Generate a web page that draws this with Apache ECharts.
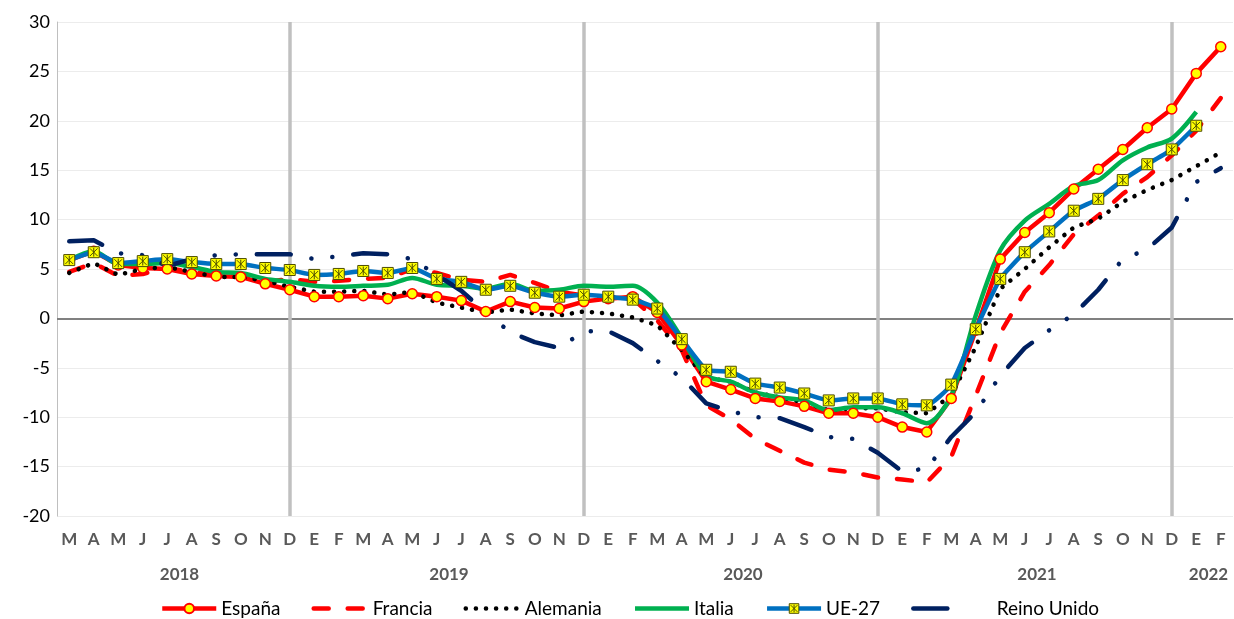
<!DOCTYPE html>
<html>
<head>
<meta charset="utf-8">
<script src="https://cdn.jsdelivr.net/npm/echarts@6/dist/echarts.min.js"></script>
<style>
  html, body { margin: 0; padding: 0; background: #fff; }
  #main { width: 1234px; height: 619px; }
</style>
</head>
<body>
<div id="main"></div>
<script>
var meses = ['M','A','M','J','J','A','S','O','N','D',
  'E','F','M','A','M','J','J','A','S','O','N','D',
  'E','F','M','A','M','J','J','A','S','O','N','D',
  'E','F','M','A','M','J','J','A','S','O','N','D',
  'E','F'];
var anios = ['2018', '2019', '2020', '2021', '2022'];
var aniosDesde = [0, 10, 22, 34, 46];
var aniosHasta = [9, 21, 33, 45, 47];
var diciembres = [9, 21, 33, 45];

var espana = [5.9, 6.8, 5.4, 5.1, 5.0, 4.5, 4.3, 4.2, 3.5, 2.9,
  2.2, 2.2, 2.3, 2.0, 2.5, 2.2, 1.8, 0.7, 1.7, 1.1, 1.0, 1.7,
  2.0, 2.2, 0.6, -2.7, -6.4, -7.2, -8.1, -8.4, -8.9, -9.6, -9.6, -10.0,
  -11.0, -11.5, -8.1, -1.2, 6.0, 8.7, 10.7, 13.1, 15.1, 17.1, 19.3, 21.2,
  24.8, 27.5];
var francia = [4.7, 5.6, 4.3, 4.5, 5.1, 4.7, 4.4, 4.3, 3.7, 4.0,
  3.7, 3.8, 4.0, 4.1, 5.0, 4.6, 3.9, 3.7, 4.4, 3.6, 2.7, 2.3,
  2.2, 2.0, -0.2, -3.2, -8.8, -10.2, -12.2, -13.4, -14.6, -15.3, -15.6, -16.1,
  -16.3, -16.6, -14.0, -7.8, -1.5, 2.7, 5.4, 8.5, 10.4, 12.6, 14.3, 16.5,
  19.0, 22.3];
var alemania = [4.6, 5.6, 4.4, 5.0, 5.2, 4.7, 4.2, 4.2, 3.8, 3.2,
  2.7, 2.7, 2.8, 2.4, 2.7, 1.6, 1.1, 0.6, 0.9, 0.5, 0.3, 0.7,
  0.5, 0.1, -0.7, -3.2, -6.0, -6.4, -7.5, -8.0, -8.5, -9.3, -9.1, -9.1,
  -9.5, -9.6, -7.8, -2.9, 3.0, 5.0, 7.2, 9.2, 10.1, 11.8, 13.0, 14.0,
  15.4, 16.8];
var italia = [5.9, 6.8, 5.5, 5.5, 5.6, 5.2, 4.7, 4.6, 4.0, 3.7,
  3.3, 3.2, 3.3, 3.4, 4.1, 3.4, 3.3, 3.0, 3.5, 2.8, 2.9, 3.3,
  3.2, 3.3, 1.6, -2.0, -5.8, -6.4, -7.5, -8.0, -8.3, -9.3, -9.0, -9.0,
  -9.6, -10.6, -7.8, 0.3, 6.9, 9.9, 11.6, 13.4, 14.0, 16.0, 17.3, 18.2,
  20.9, null];
var ue27 = [5.9, 6.7, 5.6, 5.8, 6.0, 5.7, 5.5, 5.5, 5.1, 4.9,
  4.4, 4.5, 4.8, 4.6, 5.1, 4.0, 3.7, 2.9, 3.3, 2.6, 2.2, 2.4,
  2.2, 1.9, 1.0, -2.1, -5.2, -5.4, -6.6, -7.0, -7.6, -8.3, -8.1, -8.1,
  -8.7, -8.8, -6.7, -1.1, 4.0, 6.7, 8.8, 10.9, 12.1, 14.0, 15.6, 17.1,
  19.5, null];
var reinoUnido = [7.8, 7.9, 6.6, 6.4, 5.3, 6.0, 6.4, 6.5, 6.5, 6.5,
  6.0, 6.3, 6.6, 6.5, 6.0, 4.4, 2.8, 0.6, -1.4, -2.4, -3.0, -1.3,
  -1.3, -2.5, -4.3, -6.0, -8.6, -9.4, -10.0, -10.1, -11.0, -12.0, -12.2, -13.6,
  -15.5, -15.2, -12.0, -9.5, -5.8, -3.0, -1.2, 0.4, 2.9, 6.0, 7.0, 9.2,
  13.8, 15.2];

var fuente = 'Lato, "Noto Sans", sans-serif';
var marcaUE = 'path://M0,0H10V10H0Z M1.5,1.5L8.5,8.5 M8.5,1.5L1.5,8.5 M5,1V9';
var estiloUE = { color: '#ffff00', borderColor: '#4d4d00', borderWidth: 1 };

var lineasGuia = [{ yAxis: 0, lineStyle: { color: '#808080', width: 2.2, type: 'solid' } }];
diciembres.forEach(function (i) {
    lineasGuia.push({ xAxis: i, lineStyle: { color: '#c0c0c0', width: 3.5, type: 'solid' } });
});

// en la leyenda solo España y UE-27 llevan marcador
var sinMarca = { opacity: 0, borderWidth: 0 };

var chart = echarts.init(document.getElementById('main'));

var option = {
    animation: false,
    textStyle: { fontFamily: fuente },
    grid: { left: 57, right: 1, top: 22, bottom: 103 },
    legend: {
        top: 594,
        left: 155,
        itemWidth: 54,
        itemHeight: 12,
        itemGap: 31,
        lineStyle: { width: 4.5 },
        textStyle: { fontFamily: fuente, fontSize: 19, color: '#000' },
        formatter: function (name) {
            return name === 'Reino Unido' ? '     ' + name : name;
        },
        data: [
            { name: 'España' },
            { name: 'Francia', itemStyle: sinMarca },
            { name: 'Alemania', itemStyle: sinMarca },
            { name: 'Italia', itemStyle: sinMarca },
            { name: 'UE-27', itemStyle: estiloUE },
            { name: 'Reino Unido', itemStyle: sinMarca }
        ]
    },
    xAxis: {
        type: 'category',
        data: meses,
        boundaryGap: true,
        axisLine: { show: false },
        axisTick: { show: false },
        splitLine: { show: false },
        axisLabel: {
            interval: 0,
            margin: 15,
            fontFamily: fuente,
            fontSize: 17,
            fontWeight: 'bold',
            color: '#595959'
        }
    },
    yAxis: {
        type: 'value',
        min: -20,
        max: 30,
        interval: 5,
        axisLine: { show: true, lineStyle: { color: '#bfbfbf', width: 1 } },
        axisTick: { show: false },
        splitLine: { lineStyle: { color: '#ececec', width: 1 } },
        axisLabel: { fontFamily: fuente, fontSize: 18, color: '#000', margin: 7 }
    },
    series: [
        {
            name: 'España', type: 'line', data: espana,
            symbol: 'circle', symbolSize: 10, showSymbol: true,
            lineStyle: { color: '#ff0000', width: 4.5 },
            itemStyle: { color: '#ffff00', borderColor: '#ff0000', borderWidth: 1.5 },
            markLine: {
                silent: true, symbol: ['none', 'none'], z: 1,
                label: { show: false }, data: lineasGuia
            }
        },
        {
            name: 'Francia', type: 'line', data: francia, symbol: 'none',
            lineStyle: { color: '#ff0000', width: 4.5, type: [15, 19], cap: 'round' },
            itemStyle: { color: '#ff0000' }
        },
        {
            name: 'Alemania', type: 'line', data: alemania, symbol: 'none',
            lineStyle: { color: '#000000', width: 4.5, type: [0.1, 10], cap: 'round' },
            itemStyle: { color: '#000000' }
        },
        {
            name: 'Italia', type: 'line', data: italia, symbol: 'none', smooth: 0.3,
            lineStyle: { color: '#00b050', width: 4.5 },
            itemStyle: { color: '#00b050' }
        },
        {
            name: 'UE-27', type: 'line', data: ue27, smooth: 0.15,
            symbol: marcaUE, symbolSize: 11, showSymbol: true,
            lineStyle: { color: '#0070c0', width: 4.5 },
            itemStyle: estiloUE
        },
        {
            name: 'Reino Unido', type: 'line', data: reinoUnido, symbol: 'none',
            lineStyle: { color: '#002060', width: 4.5, type: [34, 21, 0.1, 21, 0.1, 21], cap: 'round' },
            itemStyle: { color: '#002060' }
        }
    ]
};

chart.setOption(option);

// etiquetas de año centradas bajo sus meses
var textos = anios.map(function (a, k) {
    var x0 = chart.convertToPixel({ xAxisIndex: 0 }, aniosDesde[k]);
    var x1 = chart.convertToPixel({ xAxisIndex: 0 }, aniosHasta[k]);
    return {
        type: 'text',
        x: (x0 + x1) / 2,
        y: 575,
        style: {
            text: a, fontFamily: fuente, fontSize: 17, fontWeight: 'bold',
            fill: '#595959', align: 'center', verticalAlign: 'middle'
        }
    };
});
chart.setOption({ graphic: textos });
</script>
</body>
</html>
